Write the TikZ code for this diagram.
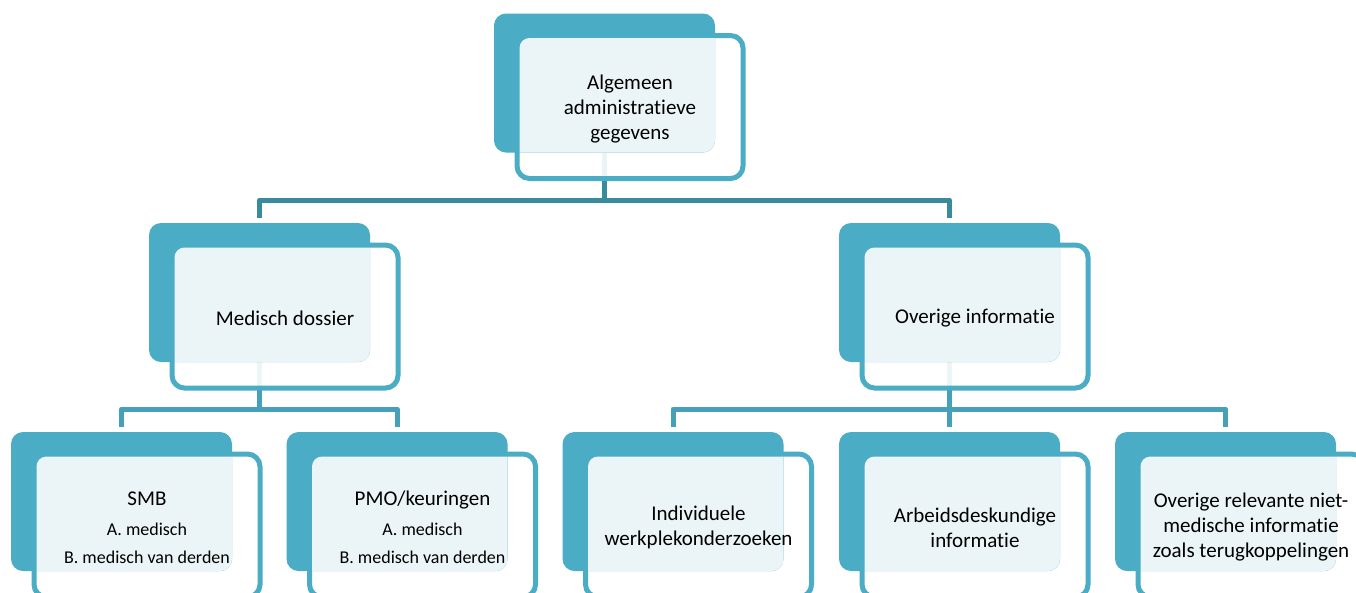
\documentclass[tikz,border=0pt]{standalone}
\usepackage{fontspec}
\setmainfont{Carlito}[Ligatures=NoCommon]
\usetikzlibrary{calc}
\definecolor{tealfill}{HTML}{4BACC6}
\definecolor{lightfill}{HTML}{EBF5F8}
\definecolor{conntop}{HTML}{3A8A9E}
\definecolor{connlow}{HTML}{46A0B9}
\pgfdeclarelayer{bg}
\pgfsetlayers{bg,main}
\tikzset{
  backbox/.style={fill=tealfill, draw=none, rounded corners=12pt, minimum width=221pt, minimum height=139pt, inner sep=0pt, outer sep=0pt},
  frontbox/.style={draw=tealfill, line width=5pt, fill=white, fill opacity=0.9, draw opacity=1, rounded corners=12.5pt, minimum width=226pt, minimum height=143pt, inner sep=0pt, outer sep=0pt},
  boxtext/.style={align=center, font=\fontsize{21}{25}\selectfont, text=black, inner sep=0pt},
  conn/.style={line width=5pt, line join=round, shorten >=5pt}
}
\newcommand\unitbox[4]{%
  \node[frontbox] (f#1) at ({#2+25.5},{#3+24}) {};
  \node[backbox] (b#1) at (#2,#3) {};
  \begin{scope}
    \clip[rounded corners=12pt] (b#1.south west) rectangle (b#1.north east);
    \fill[lightfill, rounded corners=10pt] ($(f#1.south west)+(2.5pt,2.5pt)$) rectangle ($(f#1.north east)-(2.5pt,2.5pt)$);
  \end{scope}
  \node[boxtext] (t#1) at ([yshift=-2pt]f#1.center) {#4};
}
\newcommand\sublinefont{\fontsize{18}{22}\selectfont}
\begin{document}
\begin{tikzpicture}[x=1pt, y=-1pt]
  \useasboundingbox (0,0) rectangle (1356,592);
  \clip (0,0) rectangle (1356,592);

  \unitbox{top}{604.5}{83}{Algemeen\\administratieve\\gegevens}
  \unitbox{med}{259.5}{292.5}{Medisch dossier}
  \unitbox{ove}{949.5}{292.5}{Overige informatie}
  \unitbox{smb}{121.5}{501.5}{SMB\\[5pt]{\sublinefont A. medisch}\\[3pt]{\sublinefont B. medisch van derden}}
  \unitbox{pmo}{397}{501.5}{PMO/keuringen\\[5pt]{\sublinefont A. medisch}\\[3pt]{\sublinefont B. medisch van derden}}
  \unitbox{ind}{673}{501.5}{Individuele\\werkplekonderzoeken}
  \unitbox{arb}{949.5}{501.5}{Arbeidsdeskundige\\informatie}
  \unitbox{ovr}{1225.5}{501.5}{Overige relevante niet-\\medische informatie\\zoals terugkoppelingen}

  \begin{pgfonlayer}{bg}
    \fill[white] (0,0) rectangle (1356,592);
    \coordinate (j1) at (604.5,200);
    \coordinate (j2) at (259.5,409);
    \coordinate (j3) at (949.5,409);
    \draw[conn, draw=conntop] (btop.south) -- (j1) -| (bmed.north);
    \draw[conn, draw=conntop] (j1) -| (bove.north);
    \draw[conn, draw=connlow] (bmed.south) -- (j2) -| (bsmb.north);
    \draw[conn, draw=connlow] (j2) -| (bpmo.north);
    \draw[conn, draw=connlow] (bove.south) -- (j3) -| (bind.north);
    \draw[conn, draw=connlow] (j3) -| (barb.north);
    \draw[conn, draw=connlow] (j3) -| (bovr.north);
  \end{pgfonlayer}
\end{tikzpicture}
\end{document}
